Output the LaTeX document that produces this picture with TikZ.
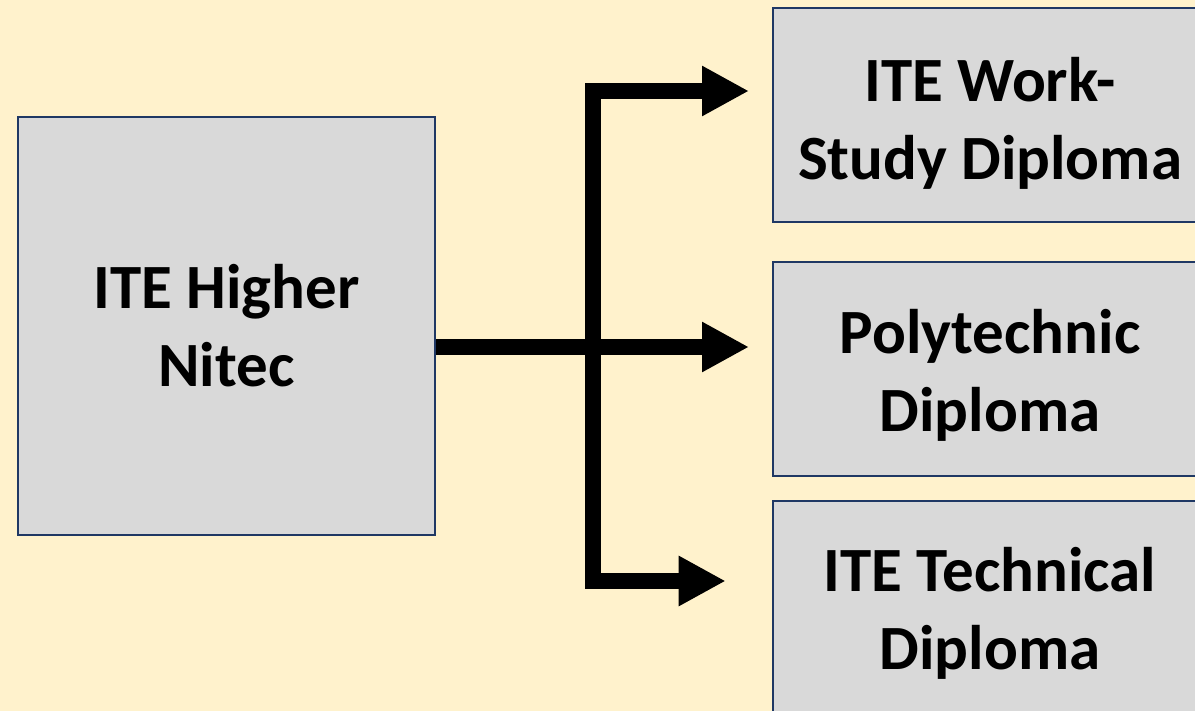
\documentclass[tikz,border=0pt]{standalone}
\usepackage{fontspec}
\setmainfont{Carlito}
\usetikzlibrary{arrows.meta}
\definecolor{bgc}{HTML}{FFF2CC}
\definecolor{boxfill}{HTML}{D9D9D9}
\definecolor{boxline}{HTML}{1F3864}
\tikzset{
  txt/.style={align=center, font=\bfseries\fontsize{63}{78}\selectfont},
  box/.style={draw=boxline, fill=boxfill, line width=2.5pt, inner sep=0pt, txt},
  rbox/.style={box, minimum width=434pt, minimum height=214pt},
  flow/.style={line width=16pt, line join=miter, draw=black,
    -{Triangle[length=47pt,width=47pt]}},
  flow2/.style={line width=16pt, line join=miter, draw=black,
    {Triangle[length=47pt,width=47pt]}-{Triangle[length=47pt,width=47pt]}}
}
\begin{document}
\begin{tikzpicture}[x=1pt,y=-1pt]
\useasboundingbox (0,0) rectangle (1195,711);
\fill[bgc] (0,0) rectangle (1195,711);
\node[box, minimum width=417pt, minimum height=418pt] (hn) at (226.5,326) {ITE Higher\\Nitec};
\node[rbox, label={[txt, yshift=-8pt]center:ITE Work-\\Study Diploma}] (ws) at (990,115) {};
\node[rbox, label={[txt, yshift=-6pt]center:Polytechnic\\Diploma}] (pd) at (990,369) {};
\node[rbox, label={[txt, yshift=-5pt]center:ITE Technical\\Diploma}] (td) at (990,608) {};
\coordinate (t1) at (749,91);
\coordinate (j1) at (592.5,91);
\coordinate (j3) at (592.5,581);
\coordinate (t3) at (725.7,581);
\coordinate (t2) at (749,347);
\draw[flow2] (t1) -- (j1) -- (j3) -- (t3);
\draw[flow] (hn.east |- t2) -- (t2);
\end{tikzpicture}
\end{document}
